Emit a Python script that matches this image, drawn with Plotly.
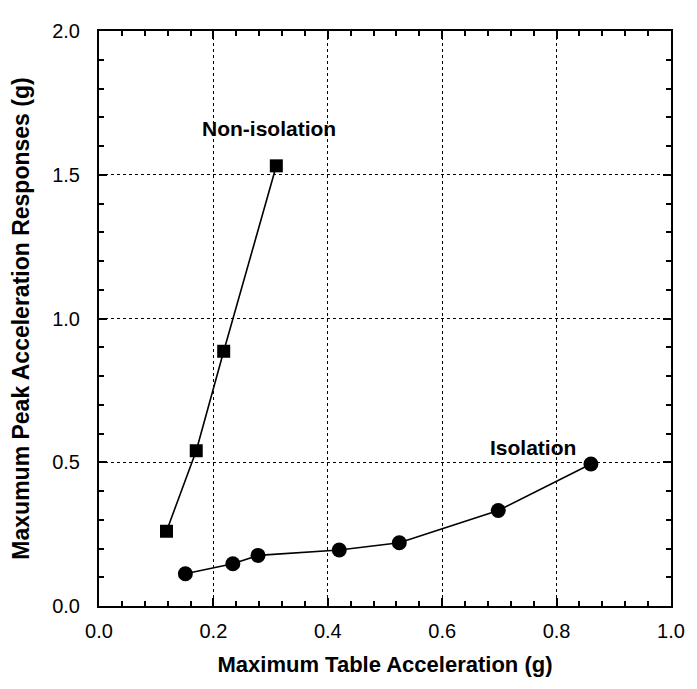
import plotly.graph_objects as go

non_iso_x = [0.118, 0.170, 0.218, 0.310]
non_iso_y = [0.26, 0.54, 0.886, 1.531]

iso_x = [0.151, 0.234, 0.278, 0.420, 0.525, 0.698, 0.860]
iso_y = [0.112, 0.147, 0.176, 0.195, 0.220, 0.332, 0.494]

x_ticks = [0.0, 0.2, 0.4, 0.6, 0.8, 1.0]
y_ticks = [0.0, 0.5, 1.0, 1.5, 2.0]

FONT = "Liberation Sans, Arial, Helvetica"

fig = go.Figure()
fig.add_trace(go.Scatter(x=non_iso_x, y=non_iso_y, mode="lines+markers",
                         line=dict(color="black", width=1.6),
                         marker=dict(symbol="square", size=13, color="black"),
                         name="Non-isolation", showlegend=False))
fig.add_trace(go.Scatter(x=iso_x, y=iso_y, mode="lines+markers",
                         line=dict(color="black", width=1.6),
                         marker=dict(symbol="circle", size=15, color="black"),
                         name="Isolation", showlegend=False))

fig.add_annotation(x=0.2976, y=1.66, text="<b>Non-isolation</b>", showarrow=False,
                   font=dict(family=FONT, size=21, color="black"))
fig.add_annotation(x=0.758, y=0.553, text="<b>Isolation</b>", showarrow=False,
                   font=dict(family=FONT, size=21, color="black"))

axis_common = dict(
    showline=True, linecolor="black", linewidth=2, mirror="ticks",
    ticks="inside", ticklen=8, tickwidth=1.5, tickcolor="black",
    showgrid=True, gridcolor="black", griddash="dot", gridwidth=1,
    zeroline=False,
    tickfont=dict(family=FONT, size=20, color="black"),
)

fig.update_xaxes(range=[0, 1.0], tickvals=x_ticks, ticktext=[f"{v:.1f}" for v in x_ticks],
                 ticklabelstandoff=6, ticklabeloverflow="allow",
                 minor=dict(dtick=0.04, tick0=0, ticks="inside", ticklen=5, tickwidth=1.5,
                            tickcolor="black", showgrid=False),
                 title=dict(text="<b>Maximum Table Acceleration (g)</b>",
                            font=dict(family=FONT, size=22, color="black"),
                            standoff=16),
                 **axis_common)
fig.update_yaxes(range=[0, 2.0], tickvals=y_ticks, ticktext=[f"{v:.1f}" for v in y_ticks],
                 ticklabelstandoff=13,
                 minor=dict(dtick=0.1, tick0=0, ticks="inside", ticklen=5, tickwidth=1.5,
                            tickcolor="black", showgrid=False),
                 title=dict(text="<b>Maxumum Peak Acceleration Responses (g)</b>",
                            font=dict(family=FONT, size=23, color="black"),
                            standoff=16),
                 **axis_common)

# The page body has an 8px default margin, so the figure is offset by 8px;
# size and margins compensate so the plot area lands where the reference's does.
fig.update_layout(width=689, height=681, plot_bgcolor="white", paper_bgcolor="white",
                  margin=dict(l=88, r=18, t=12, b=83))

fig.write_html("out.html")
